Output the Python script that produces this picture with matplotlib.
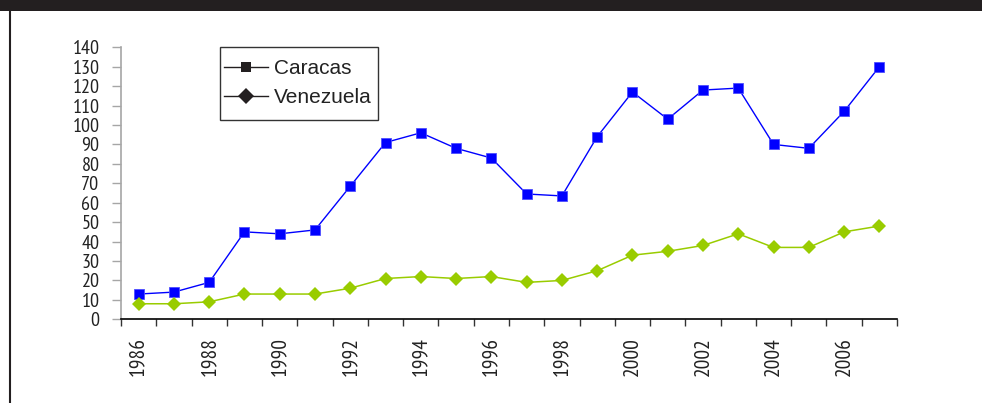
import matplotlib
matplotlib.use("Agg")
import matplotlib.pyplot as plt
from matplotlib import font_manager
from matplotlib.lines import Line2D
from matplotlib.patches import Rectangle

# Annual values, 1986-2007
years = list(range(1986, 2008))
caracas = [13, 14, 19, 45, 44, 46, 68.5, 91, 96, 88, 83, 64.5, 63.5, 94,
           117, 103, 118, 119, 90, 88, 107, 130]
venezuela = [8, 8, 9, 13, 13, 13, 16, 21, 22, 21, 22, 19, 20, 25,
             33, 35, 38, 44, 37, 37, 45, 48]
series_names = ["Caracas", "Venezuela"]
year_labels = [str(y) for y in years[::2]]
y_ticks = list(range(0, 150, 10))

# narrow face for the axis numbers, first one installed
available = {f.name for f in font_manager.fontManager.ttflist}
narrow = next((n for n in ["Liberation Sans Narrow", "Arial Narrow", "PT Sans Narrow",
                           "Roboto Condensed", "Archivo Narrow"] if n in available),
              "Liberation Sans")
plt.rcParams["font.family"] = ["Liberation Sans", "DejaVu Sans"]

W, H, DPI = 982, 403, 100
fig = plt.figure(figsize=(W / DPI, H / DPI), dpi=DPI)
fig.patch.set_facecolor("white")

dark = "#231f20"
# dark header band and left frame rule
fig.patches.append(Rectangle((0, 1 - 11 / H), 1, 11 / H, transform=fig.transFigure,
                             facecolor=dark, edgecolor="none", zorder=0))
fig.add_artist(Line2D([9.5 / W, 9.5 / W], [0, 1 - 11 / H], transform=fig.transFigure,
                      color=dark, lw=1.5))

left, right = 121 / W, 897 / W
bottom, top = 1 - 319.3 / H, 1 - 47.3 / H
ax = fig.add_axes([left, bottom, right - left, top - bottom])

x = list(range(len(years)))
ax.plot(x, caracas, color="#0000ff", lw=1.0, marker="s", ms=7.0, mew=0.6,
        mec="#4d4dff", zorder=3, clip_on=False)
ax.plot(x, venezuela, color="#99cc00", lw=1.1, marker="D", ms=7.6, mew=0,
        zorder=3, clip_on=False)

ax.set_xlim(-0.5, len(years) - 0.5)
ax.set_ylim(0, 140)

# category boundaries carry the tick marks, every second year is labelled
ax.set_xticks([i - 0.5 for i in range(len(years) + 1)])
ax.set_xticklabels([])
ax.set_xticks(x[::2], minor=True)
ax.set_xticklabels(year_labels, minor=True, rotation=90, fontsize=15.5,
                   family=narrow, color="#222222", ha="center", va="top")
ax.tick_params(axis="x", which="major", direction="out", length=5, width=1.0,
               color="#333333")
ax.tick_params(axis="x", which="minor", length=0, pad=13.0)

ax.set_yticks(y_ticks)
ax.set_yticklabels([str(v) for v in y_ticks], fontsize=14.5, family=narrow,
                   color="#222222")
ax.tick_params(axis="y", direction="out", length=6.5, width=1.0,
               color="#a6a6a6", pad=9)

for s in ("top", "right"):
    ax.spines[s].set_visible(False)
ax.spines["left"].set_color("#a6a6a6")
ax.spines["left"].set_linewidth(1.2)
ax.spines["bottom"].set_color("#000000")
ax.spines["bottom"].set_linewidth(1.2)

# legend box
fig.patches.append(Rectangle((220 / W, 1 - 120 / H), 158 / W, 72.7 / H,
                             transform=fig.transFigure, facecolor="white",
                             edgecolor="#333333", lw=1.0, zorder=4))
handles = [Line2D([], [], color=dark, lw=1.0, marker="s", ms=7.5, mew=0),
           Line2D([], [], color=dark, lw=1.0, marker="D", ms=8.0, mew=0)]
leg = fig.legend(handles, series_names, loc="upper left",
                 bbox_to_anchor=(224 / W, 1 - 59 / H), bbox_transform=fig.transFigure,
                 fontsize=15, frameon=False, handlelength=2.1, handletextpad=0.3,
                 labelspacing=0.48, borderpad=0, borderaxespad=0)
leg.set_zorder(5)
for t in leg.get_texts():
    t.set_color("#222222")

fig.savefig("out.png", dpi=DPI)
